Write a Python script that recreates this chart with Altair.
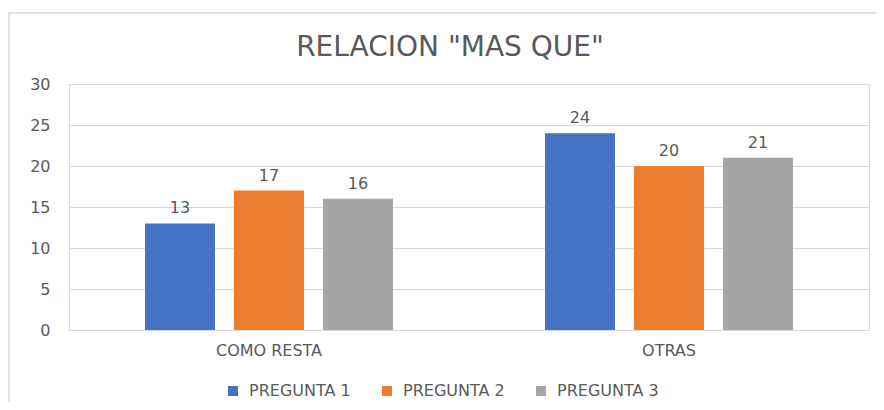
import altair as alt
import pandas as pd

categories = ["COMO RESTA", "OTRAS"]
series = ["PREGUNTA 1", "PREGUNTA 2", "PREGUNTA 3"]
values_p1 = [13, 24]
values_p2 = [17, 20]
values_p3 = [16, 21]
colors = ["#4472C4", "#ED7D31", "#A5A5A5"]

rows = []
for i, c in enumerate(categories):
    for s, vals in zip(series, [values_p1, values_p2, values_p3]):
        rows.append({"cat": c, "serie": s, "valor": vals[i]})
df = pd.DataFrame(rows)

FONT = "DejaVu Sans"
TXT = "#595959"
FS = 16

x_enc = alt.X("cat:N", sort=categories, title=None,
              scale=alt.Scale(paddingInner=0.38, paddingOuter=0.19),
              axis=alt.Axis(labelAngle=0, domain=False, ticks=False, labelPadding=12,
                            labelFontSize=FS, labelColor=TXT, labelFont=FONT))
xoff = alt.XOffset("serie:N", sort=series,
                   scale=alt.Scale(paddingInner=19/89, paddingOuter=0))
y_enc = alt.Y("valor:Q", title=None,
              scale=alt.Scale(domain=[0, 30], nice=False),
              axis=alt.Axis(values=[0, 5, 10, 15, 20, 25, 30], domain=False, ticks=False,
                            labelPadding=19, labelFontSize=FS, labelColor=TXT, labelFont=FONT,
                            gridColor="#d9d9d9", gridWidth=1))

base = alt.Chart(df)

bars = base.mark_bar().encode(
    x=x_enc, xOffset=xoff, y=y_enc,
    color=alt.Color("serie:N", sort=series, title=None,
                    scale=alt.Scale(domain=series, range=colors),
                    legend=alt.Legend(orient="none", direction="horizontal",
                                      legendX=156, legendY=299,
                                      symbolType="square", symbolSize=100,
                                      symbolStrokeWidth=0,
                                      labelFontSize=FS, labelColor=TXT, labelFont=FONT,
                                      columnPadding=28, labelOffset=8)),
)

labels = base.mark_text(baseline="bottom", dy=-7, fontSize=FS, color=TXT, font=FONT).encode(
    x=alt.X("cat:N", sort=categories),
    xOffset=alt.XOffset("serie:N", sort=series),
    y="valor:Q",
    text="valor:Q",
)

border_df = pd.DataFrame({"k": [0]})
border = alt.Chart(border_df).mark_rect(fill="transparent", stroke="#d9d9d9",
                                        strokeWidth=1.5, clip=False).encode(
    x=alt.value(-60), x2=alt.value(830), y=alt.value(-71), y2=alt.value(330)
)

chart = alt.layer(border, bars, labels).properties(
    width=800, height=246,
    title=alt.Title('RELACION "MAS QUE"', font=FONT, fontSize=28, fontWeight="normal",
                    color=TXT, anchor="middle", frame="group", dx=-19, offset=0, dy=72,
                    baseline="alphabetic"),
    padding={"left": 61, "top": 76, "right": 7, "bottom": 72},
    autosize=alt.AutoSizeParams(type="none"),
).configure_view(stroke=None).configure(background="white")

chart.save("out.html", embed_options={"renderer": "svg", "actions": False})
